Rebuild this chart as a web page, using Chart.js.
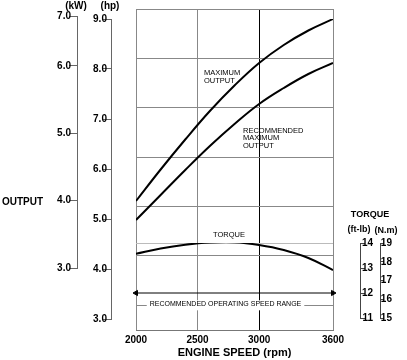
<!DOCTYPE html>
<html>
<head>
<meta charset="utf-8">
<script src="https://cdn.jsdelivr.net/npm/chart.js@4.4.0/dist/chart.umd.min.js"></script>
<style>
html, body { margin: 0; padding: 0; background: #fff; }
</style>
</head>
<body>
<canvas id="grafica" width="407" height="360"></canvas>
<script>
// datos
var rpm = [2000, 2200, 2400, 2600, 2800, 3000, 3200, 3400, 3600];
var potenciaMax = [5.36, 5.99, 6.59, 7.16, 7.67, 8.12, 8.48, 8.77, 9.00];
var potenciaRec = [4.98, 5.48, 5.98, 6.46, 6.90, 7.30, 7.62, 7.90, 8.12];
var parFtLb = [13.57, 13.78, 13.93, 14.02, 14.03, 13.92, 13.72, 13.40, 12.92];
var rangoRpm = [2000, 3600];
var rangoAltura = 3.52;

var ticksRpm = [2000, 2500, 3000, 3600];
var ticksHp = [3, 4, 5, 6, 7, 8, 9];
var ticksKw = [3, 4, 5, 6, 6.74];
var etiquetasKw = ['3.0', '4.0', '5.0', '6.0', '7.0'];
var ticksFtLb = [11, 12, 13, 14];
var ticksNm = [15, 16, 17, 18, 19];
var ticksRejilla = [0, 1, 2, 3, 4, 5, 6];

var fuente = "'Liberation Sans', Arial, sans-serif";
Chart.defaults.font.family = fuente;
Chart.defaults.color = '#000';

function puntos(xs, ys) {
    return xs.map(function (x, i) { return {x: x, y: ys[i]}; });
}

function fijarTicks(valores) {
    return function (scale) {
        scale.ticks = valores.map(function (v) { return {value: v}; });
    };
}

var fuenteTick = {family: fuente, size: 10, weight: 'bold'};

// eje que solo dibuja la linea y las marcas
function ejeLinea(xPos, min, max, valores, largo, color) {
    return {
        type: 'linear', axis: 'y', position: {x: xPos}, min: min, max: max,
        afterBuildTicks: fijarTicks(valores),
        grid: {drawOnChartArea: false, tickLength: largo, color: color},
        border: {color: color},
        ticks: {display: false}
    };
}

// eje que solo pone los numeros
function ejeNumeros(xPos, min, max, valores, formato) {
    return {
        type: 'linear', axis: 'y', position: {x: xPos}, min: min, max: max,
        afterBuildTicks: fijarTicks(valores),
        grid: {display: false},
        border: {display: false},
        ticks: {font: fuenteTick, callback: formato}
    };
}

// alto propio de cada eje (en pixeles)
var altosEjes = {
    hp: [19, 319], hpNum: [19, 319],
    kw: [16, 268], kwNum: [16, 268],
    ftlb: [243, 318], ftlbNum: [243, 318],
    nm: [243, 318], nmNum: [243, 318]
};

var ajusteEjes = {
    id: 'ajusteEjes',
    afterLayout: function (chart) {
        Object.keys(altosEjes).forEach(function (id) {
            var s = chart.scales[id];
            s.top = altosEjes[id][0];
            s.bottom = altosEjes[id][1];
            s.height = s.bottom - s.top;
            s.configure();
        });
    }
};

var textos = {
    id: 'textos',
    afterDraw: function (chart) {
        var ctx = chart.ctx;
        var x = chart.scales.x;
        var hp = chart.scales.hp;
        var tq = chart.scales.ftlb;
        var rej = chart.scales.rejilla;
        ctx.save();
        ctx.fillStyle = '#000';
        ctx.textBaseline = 'middle';

        ctx.font = '7.5px ' + fuente;
        ctx.textAlign = 'left';
        var x1 = x.getPixelForValue(2552);
        var y1 = hp.getPixelForValue(7.92);
        ctx.fillText('MAXIMUM', x1, y1);
        ctx.fillText('OUTPUT', x1, y1 + 8);

        var x2 = x.getPixelForValue(2869);
        var y2 = hp.getPixelForValue(6.76);
        ctx.fillText('RECOMMENDED', x2, y2);
        ctx.fillText('MAXIMUM', x2, y2 + 7.3);
        ctx.fillText('OUTPUT', x2, y2 + 14.6);

        ctx.textAlign = 'center';
        ctx.fillText('TORQUE', x.getPixelForValue(2755), tq.getPixelForValue(14.33));

        ctx.font = '7px ' + fuente;
        var txt = 'RECOMMENDED OPERATING SPEED RANGE';
        var cx = x.getPixelForValue(2727);
        var cy = rej.getPixelForValue(6);
        var w = ctx.measureText(txt).width;
        ctx.fillStyle = '#fff';
        ctx.fillRect(cx - w / 2 - 3, cy - 5, w + 6, 10);
        ctx.fillStyle = '#000';
        ctx.fillText(txt, cx, cy - 1);

        ctx.font = 'bold 10px ' + fuente;
        ctx.fillText('(kW)', 76, 6);
        ctx.fillText('(hp)', 110, 6);
        ctx.textAlign = 'left';
        ctx.fillText('OUTPUT', 2, 202);
        ctx.textAlign = 'center';
        ctx.font = 'bold 9px ' + fuente;
        ctx.fillText('TORQUE', 370, 215);
        ctx.fillText('(ft-lb)', 359, 230);
        ctx.fillText('(N.m)', 386, 231);
        ctx.restore();
    }
};

var uno = function (v) { return v.toFixed(1); };
var entero = function (v) { return v; };

var grafica = new Chart(document.getElementById('grafica'), {
    type: 'line',
    data: {
        datasets: [
            {
                data: puntos(rpm, potenciaMax),
                yAxisID: 'hp',
                borderColor: '#000',
                borderWidth: 2,
                pointRadius: 0,
                tension: 0.4
            },
            {
                data: puntos(rpm, potenciaRec),
                yAxisID: 'hp',
                borderColor: '#000',
                borderWidth: 2,
                pointRadius: 0,
                tension: 0.4
            },
            {
                data: puntos(rpm, parFtLb),
                yAxisID: 'ftlb',
                borderColor: '#000',
                borderWidth: 2,
                pointRadius: 0,
                tension: 0.4
            },
            {
                data: puntos(rangoRpm, [rangoAltura, rangoAltura]),
                yAxisID: 'hp',
                borderColor: '#000',
                backgroundColor: '#000',
                borderWidth: 1,
                pointStyle: 'triangle',
                pointRadius: 3,
                pointRotation: [270, 90],
                clip: false
            }
        ]
    },
    options: {
        responsive: false,
        animation: false,
        layout: {padding: {left: 136, right: 74, top: 4, bottom: 0}},
        plugins: {legend: {display: false}, tooltip: {enabled: false}},
        scales: {
            x: {
                type: 'linear',
                axis: 'x',
                position: 'bottom',
                min: 2000,
                max: 3600,
                afterBuildTicks: fijarTicks(ticksRpm),
                afterFit: function (scale) { scale.height = 30; },
                grid: {
                    color: function (c) { return c.tick && c.tick.value === 3000 ? '#000' : '#888'; },
                    drawTicks: false
                },
                border: {color: '#777'},
                ticks: {font: fuenteTick, padding: 4, callback: entero},
                title: {display: true, text: 'ENGINE SPEED (rpm)', font: {family: fuente, size: 11, weight: 'bold'}, padding: 0}
            },
            rejilla: {
                type: 'linear',
                axis: 'y',
                position: {x: 2000},
                min: 0,
                max: 6.5,
                reverse: true,
                afterBuildTicks: fijarTicks(ticksRejilla),
                grid: {color: '#888', drawTicks: false},
                border: {display: false},
                ticks: {display: false}
            },
            hp: ejeLinea(1805, 3, 9, ticksHp, 8, '#666'),
            hpNum: ejeNumeros(1764, 3, 9, ticksHp, uno),
            kw: ejeLinea(1525, 3, 6.74, ticksKw, 8, '#666'),
            kwNum: ejeNumeros(1472, 3, 6.74, ticksKw, function (v, i) { return etiquetasKw[i]; }),
            ftlb: {
                type: 'linear',
                axis: 'y',
                position: {x: 3827},
                min: 11,
                max: 14,
                afterBuildTicks: fijarTicks(ticksFtLb),
                grid: {
                    color: function (c) { return c.tick && c.tick.value === 14 ? '#bbb' : 'rgba(0,0,0,0)'; },
                    tickColor: '#444',
                    tickLength: -5
                },
                border: {color: '#444'},
                ticks: {display: false}
            },
            ftlbNum: ejeNumeros(3925, 11, 14, ticksFtLb, entero),
            nm: ejeLinea(3982, 15, 19, ticksNm, -4, '#444'),
            nmNum: ejeNumeros(4079, 15, 19, ticksNm, entero)
        }
    },
    plugins: [ajusteEjes, textos]
});
</script>
</body>
</html>
